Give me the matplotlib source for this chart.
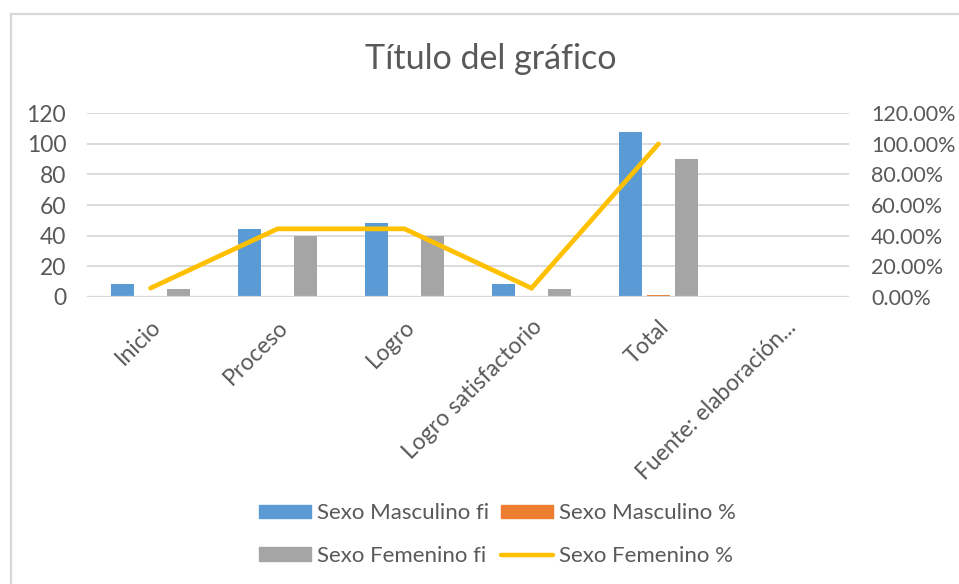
import matplotlib
matplotlib.use("Agg")
import matplotlib.pyplot as plt
import numpy as np
from matplotlib.patches import Patch
from matplotlib.lines import Line2D
from matplotlib.ticker import FuncFormatter, MultipleLocator

plt.rcParams['font.family'] = ['Lato', 'DejaVu Sans']

categories = ["Inicio", "Proceso", "Logro", "Logro satisfactorio", "Total", "Fuente: elaboración..."]
masc_fi = [8, 44, 48, 8, 108, np.nan]
masc_pct = [0.074, 0.407, 0.444, 0.074, 1.0, np.nan]
fem_fi = [5, 40, 40, 5, 90, np.nan]
fem_pct = [0.056, 0.444, 0.444, 0.056, 1.0, np.nan]

c_blue = "#5B9BD5"
c_orange = "#ED7D31"
c_gray = "#A5A5A5"
c_yellow = "#FFC000"
txt = "#595959"
grid = "#D9D9D9"

W, H = 959, 584
fig = plt.figure(figsize=(W/100, H/100), dpi=100)
fig.patch.set_facecolor("white")

# chart border
fig.add_artist(Line2D([11/W, 11/W], [0, 1 - 14/H], color=grid, lw=1.6, transform=fig.transFigure))
fig.add_artist(Line2D([11/W, 1], [1 - 14/H, 1 - 14/H], color=grid, lw=1.6, transform=fig.transFigure))

left, right = 87, 849
top, bottom = 113.3, 296.7
ax = fig.add_axes([left/W, 1 - bottom/H, (right-left)/W, (bottom-top)/H])
ax2 = ax.twinx()

x = np.arange(len(categories))
bw = 0.18
off = 0.22
ax.bar(x - off, masc_fi, width=bw, color=c_blue, zorder=2)
ax.bar(x, masc_pct, width=bw, color=c_orange, zorder=1)
ax.bar(x + off, fem_fi, width=bw, color=c_gray, zorder=2)
ax.set_ylim(0, 120)
ax.set_xlim(-0.5, len(categories) - 0.5)
ax.yaxis.set_major_locator(MultipleLocator(20))
ax.grid(axis='y', color=grid, lw=1.3, zorder=0)
ax.set_axisbelow(True)
ax.axhline(0, color=grid, lw=1.6, zorder=3)

ax2.plot(x, fem_pct, color=c_yellow, lw=3.4, solid_capstyle='round', solid_joinstyle='miter', zorder=4)
ax2.set_ylim(0, 1.2)
ax2.yaxis.set_major_locator(MultipleLocator(0.2))
ax2.yaxis.set_major_formatter(FuncFormatter(lambda v, p: f"{v*100:.2f}%"))

for a in (ax, ax2):
    for s in a.spines.values():
        s.set_visible(False)
    a.tick_params(length=0, labelsize=16.5, labelcolor=txt)

ax.tick_params(axis='y', pad=15)
ax2.tick_params(axis='y', pad=16, labelsize=15.5)
ax.set_xticks(x)
ax.set_xticklabels(categories, rotation=45, ha='right', va='top', rotation_mode='anchor')
ax.tick_params(axis='x', pad=14)

fig.text(491/W, 1 - 59/H, "Título del gráfico", ha='center', va='center', fontsize=24.5, color=txt)

handles = [Patch(color=c_blue), Patch(color=c_gray), Patch(color=c_orange),
           Line2D([0], [0], color=c_yellow, lw=3.2, solid_capstyle='round')]
labels = ["Sexo Masculino fi", "Sexo Femenino fi", "Sexo Masculino %", "Sexo Femenino %"]
leg = fig.legend(handles, labels, ncol=2, loc='center', bbox_to_anchor=(497/W, 1 - 534.5/H),
                 frameon=False, fontsize=16, handlelength=2.34, handleheight=0.55,
                 handletextpad=0.27, columnspacing=0.54, labelspacing=1.03, labelcolor=txt)

fig.savefig("out.png", dpi=100, facecolor="white")
